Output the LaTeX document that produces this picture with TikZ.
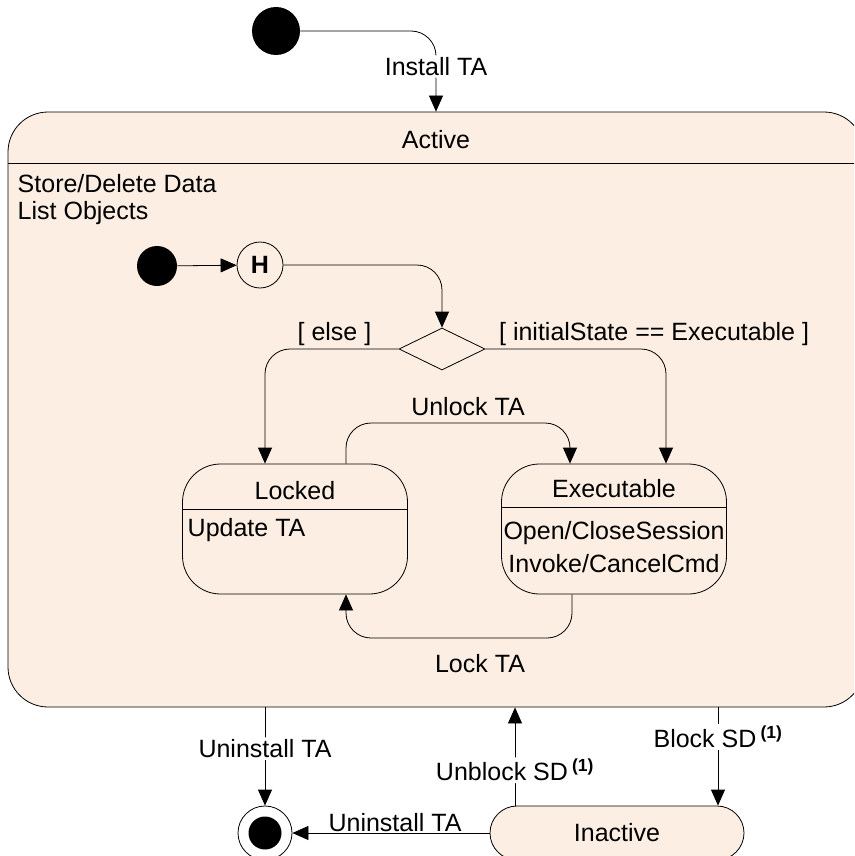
\documentclass[tikz,border=0pt]{standalone}
\usepackage{fontspec}
\setmainfont{Liberation Sans}
\usepackage{tikz}
\usetikzlibrary{arrows.meta, positioning, shapes.geometric, calc}
\definecolor{statepeach}{HTML}{FCEEE3}

\tikzset{
  statebox/.style={draw, fill=statepeach, rounded corners=#1},
  statebox/.default=38pt,
  pseudo/.style={circle, fill=black, inner sep=0pt},
  trans/.style={-{Triangle[length=16pt,width=14pt]}, rounded corners=25pt},
  lbl/.style={fill=white, inner sep=2pt}
}

\begin{document}
\begin{tikzpicture}[x=1pt, y=-1pt, line width=0.8pt,
    font=\fontsize{25}{27}\selectfont]
  \useasboundingbox (0,0) rectangle (854,856);
  \clip (0,0) rectangle (854,856);

  % ---- top level ----
  \node[pseudo, minimum size=48pt] (init) at (276,31) {};
  \node[statebox=40pt, minimum width=856pt, minimum height=595pt]
        (active) at (436,409.5) {};
  \node (activename) at (436,140) {Active};
  \draw (active.west |- 0,163) -- (active.east |- 0,163);
  \node[anchor=west, align=left] (activedo) at (14,200)
        {Store/Delete Data\\List Objects};
  \draw[trans] (init) -| node[lbl, pos=0.72] {Install TA} (active.north);

  % ---- inside Active ----
  \node[pseudo, minimum size=40pt] (start) at (157,266) {};
  \node[draw, circle, minimum size=46pt, inner sep=0pt,
        font=\bfseries\fontsize{25}{27}\selectfont] (hist) at (260,265) {H};
  \node[diamond, draw, aspect=2, minimum width=86pt, minimum height=42pt,
        inner sep=0pt] (choice) at (442,349) {};
  \draw[trans] (start) -- (hist);
  \draw[trans] (hist) -| (choice);

  % Locked
  \node[statebox, minimum width=225pt, minimum height=130pt]
        (locked) at (295,529) {};
  \node (lockedname) at (295,491) {Locked};
  \draw (locked.west |- 0,509) -- (locked.east |- 0,509);
  \node[anchor=west] (lockeddo) at (184,530) {Update TA};

  % Executable
  \node[statebox, minimum width=225pt, minimum height=130pt]
        (exec) at (614,529) {};
  \node (execname) at (614,489) {Executable};
  \draw (exec.west |- 0,507) -- (exec.east |- 0,507);
  \node[align=center] (execdo) at (614,547)
        {Open/CloseSession\\[6pt]Invoke/CancelCmd};

  % choice branches
  \draw[trans] (choice.west) -| ([xshift=-30pt]locked.north)
        node[pos=0.24, above] {[ else ]};
  \draw[trans] (choice.east) -| ([xshift=52pt]exec.north)
        node[pos=0, above right, xshift=10pt] {[ initialState == Executable ]};

  % lock / unlock
  \coordinate (unlock) at (468,423);
  \coordinate (lock) at (480,638);
  \draw[trans] ([xshift=51pt]locked.north) |- (unlock)
        node[above=4pt] {Unlock TA} -| ([xshift=-44pt]exec.north);
  \draw[trans] ([xshift=-42pt]exec.south) |- (lock)
        node[below=13pt] {Lock TA} -| ([xshift=51pt]locked.south);

  % ---- bottom ----
  \node[circle, draw, fill=white, minimum size=54pt, inner sep=0pt]
        (final) at (265,833) {};
  \node[pseudo, minimum size=33pt] (finaldot) at (final) {};
  \node[statebox=27pt, minimum width=254pt, minimum height=54pt]
        (inactive) at (617,833) {Inactive};
  \coordinate (unblockfoot) at ([xshift=-102pt]inactive.north);
  \coordinate (blockhead) at ([xshift=101pt]inactive.north);

  \draw[trans] (final.north |- active.south)
        -- node[lbl, pos=0.42] {Uninstall TA} (final);
  \draw[trans] (unblockfoot) -- node[lbl, pos=0.36]
        {Unblock SD\,\textsuperscript{\bfseries(1)}} (unblockfoot |- active.south);
  \draw[trans] (blockhead |- active.south) -- node[lbl, pos=0.3]
        {Block SD\,\textsuperscript{\bfseries(1)}} (blockhead);
  \draw[trans] (inactive) -- node[above, inner sep=1pt, xshift=4pt]
        {Uninstall TA} (final);
\end{tikzpicture}
\end{document}
